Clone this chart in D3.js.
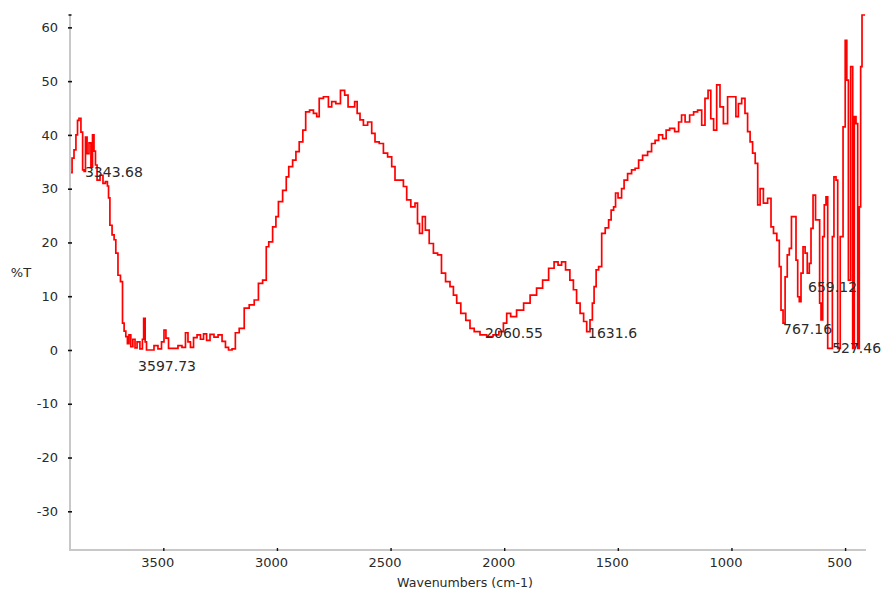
<!DOCTYPE html>
<html>
<head>
<meta charset="utf-8">
<script src="https://cdn.jsdelivr.net/npm/d3@7"></script>
<style>
  html, body { margin: 0; padding: 0; background: #fff; }
  svg { display: block; }
  text { font-family: "DejaVu Sans", Verdana, sans-serif; fill: #2a2a2a; }
</style>
</head>
<body>
<svg id="chart" width="882" height="590"></svg>
<script>
// ---- data ----
const wavenumbers = [3906,3897,3889,3880,3875,3867,3858,3852,3845,3840,3831,3823,3814,3809,3801,3796,3787,3770,3761,3749,3743,3739,3731,3720,3713,3705,3694,3683,3676,3669,3661,3655,3647,3639,3629,3620,3611,3595,3589,3584,3576,3572,3550,3532,3515,3501,3493,3484,3470,3444,3427,3409,3396,3387,3374,3360,3343,3330,3316,3303,3286,3268,3250,3233,3220,3206,3189,3177,3155,3133,3111,3089,3074,3052,3042,3030,3008,3001,2986,2964,2954,2942,2920,2913,2891,2881,2866,2847,2832,2818,2810,2781,2766,2752,2730,2711,2693,2681,2664,2652,2642,2627,2612,2590,2576,2561,2539,2524,2502,2488,2473,2451,2436,2422,2400,2385,2378,2367,2353,2341,2319,2304,2282,2270,2246,2231,2216,2202,2180,2158,2143,2121,2092,2062,2036,2011,1996,1982,1961,1930,1899,1873,1842,1820,1789,1772,1754,1741,1719,1703,1688,1675,1657,1644,1630,1615,1609,1600,1591,1578,1564,1547,1534,1525,1512,1508,1490,1477,1468,1446,1433,1415,1402,1380,1358,1345,1327,1314,1292,1283,1261,1239,1226,1213,1195,1173,1160,1138,1124,1109,1097,1085,1072,1058,1043,1028,1006,984,977,962,948,933,925,911,903,888,881,867,852,830,822,808,793,786,778,768,760,749,742,730,720,712,705,698,690,680,672,661,654,646,636,624,614,610,602,595,588,580,573,558,554,544,536,529,514,504,495,490,481,470,463,456,448,441,434,429,422,412];
const transmittance = [33.0,35.7,37.2,40.0,42.7,43.1,40.5,33.5,33.2,39.6,36.5,38.5,34.0,40.0,37.0,34.4,31.6,32.5,31.0,31.3,30.5,28.3,23.2,21.4,20.5,18.0,13.9,12.7,5.0,3.5,2.5,1.2,2.8,0.6,2.0,0.4,1.5,0.2,2.0,5.9,1.5,0.0,0.0,0.8,0.2,1.5,3.7,2.2,0.3,0.3,0.8,0.5,3.2,1.5,0.5,2.3,2.8,2.0,3.0,1.8,2.9,2.4,2.8,1.6,0.5,0.0,0.2,3.2,4.0,7.8,8.4,9.3,12.4,13.0,19.2,20.1,22.9,24.8,27.6,29.7,32.2,34.1,35.3,36.9,38.7,40.9,44.3,44.6,44.0,43.4,46.8,47.1,45.2,46.2,45.8,48.3,47.4,45.2,45.2,46.2,44.0,42.8,41.8,42.4,40.3,38.7,38.4,36.6,35.9,34.1,31.6,31.6,30.4,27.9,26.6,27.3,23.5,21.7,24.8,22.3,19.8,18.0,17.7,14.3,12.7,11.8,10.2,8.7,6.8,5.5,4.0,3.4,2.8,2.5,2.8,3.4,5.0,6.8,6.2,7.4,8.7,10.2,11.5,13.0,15.2,16.4,15.8,16.4,14.9,13.0,11.2,8.7,6.8,5.3,3.4,5.6,8.7,11.8,14.9,15.5,21.7,22.7,24.2,26.0,26.6,29.2,28.3,30.0,31.6,32.8,33.5,33.8,35.3,36.2,36.9,38.4,39.0,40.0,39.3,40.9,41.2,40.6,42.4,43.7,42.4,43.7,44.3,44.6,41.8,46.8,48.3,43.0,40.9,49.3,45.2,42.1,47.1,47.1,43.4,45.8,46.8,44.0,40.6,38.7,36.6,34.7,27.0,30.0,27.3,28.2,22.9,21.7,20.4,15.5,7.4,5.0,13.6,17.7,18.9,24.8,24.8,16.7,9.9,9.0,14.3,19.2,18.0,14.3,16.1,22.6,28.8,24.2,24.2,8.7,5.6,21.1,27.0,28.5,0.3,0.3,21.1,32.2,31.6,0.3,21.1,41.5,57.6,50.2,13.0,52.7,0.3,43.4,42.1,0.3,26.6,52.7,62.3,62.3];
const xTickValues = [3500,3000,2500,2000,1500,1000,500];
const yTickValues = [-30,-20,-10,0,10,20,30,40,50,60];
const peakLabels = ["3343.68","3597.73","2060.55","1631.6","659.12","767.16","527.46"];
const peakLabelWavenumber = [3845,3611,2084,1631,663,773,557];
const peakLabelValue = [32.2,-3.9,2.2,2.2,10.7,2.9,-0.5];
const xDomain = [3910.6, 408];
const yDomain = [-37.2, 62.3];
const xTitle = "Wavenumbers (cm-1)";
const yTitle = "%T";

// ---- drawing ----
const svg = d3.select("#chart");
const plotLeft = 70, plotRight = 866, plotTop = 15, plotBottom = 550;
const x = d3.scaleLinear().domain(xDomain).range([plotLeft, plotRight]);
const y = d3.scaleLinear().domain(yDomain).range([plotBottom, plotTop]);

svg.append("line").attr("x1", plotLeft).attr("x2", plotLeft).attr("y1", plotTop).attr("y2", plotBottom + 1)
  .attr("stroke", "#c8c8c8").attr("stroke-width", 2);
svg.append("line").attr("x1", plotLeft - 1).attr("x2", plotRight).attr("y1", plotBottom).attr("y2", plotBottom)
  .attr("stroke", "#c8c8c8").attr("stroke-width", 2);
svg.append("line").attr("x1", plotLeft - 1.5).attr("x2", plotLeft + 1.5).attr("y1", plotTop).attr("y2", plotTop)
  .attr("stroke", "#111").attr("stroke-width", 1.5);

const fmt = d => String(d);
const yAxis = d3.axisLeft(y).tickValues(yTickValues).tickSize(0).tickPadding(12).tickFormat(fmt);
const gy = svg.append("g").attr("transform", `translate(${plotLeft},0)`).call(yAxis);
gy.select(".domain").remove();
gy.selectAll(".tick text").attr("font-size", 13).attr("font-family", "DejaVu Sans, sans-serif").attr("fill", "#2a2a2a");
gy.selectAll(".tick").append("line").attr("x1", -2).attr("x2", 2).attr("stroke", "#111").attr("stroke-width", 1.6);

const xAxis = d3.axisBottom(x).tickValues(xTickValues).tickSize(0).tickPadding(8).tickFormat(fmt);
const gx = svg.append("g").attr("transform", `translate(0,${plotBottom})`).call(xAxis);
gx.select(".domain").remove();
gx.selectAll(".tick text").attr("font-size", 13).attr("font-family", "DejaVu Sans, sans-serif").attr("fill", "#2a2a2a").attr("dx", -6);
gx.selectAll(".tick").append("line").attr("y1", -2).attr("y2", 1).attr("stroke", "#111").attr("stroke-width", 1.4);

svg.append("text").attr("x", 21).attr("y", 277).attr("text-anchor", "middle").attr("font-size", 13).text(yTitle);
svg.append("text").attr("x", 465).attr("y", 587).attr("text-anchor", "middle").attr("font-size", 12.6).text(xTitle);

const data = wavenumbers.map((w, i) => ({ w, t: transmittance[i] }));
svg.append("defs").append("clipPath").attr("id", "plotclip")
  .append("rect").attr("x", plotLeft).attr("y", plotTop - 3).attr("width", plotRight - plotLeft).attr("height", plotBottom - plotTop + 3);
const line = d3.line().x(d => x(d.w)).y(d => y(d.t)).curve(d3.curveStep);
svg.append("path").datum(data).attr("d", line)
  .attr("fill", "none").attr("stroke", "#ff0000").attr("stroke-width", 1.7)
  .attr("clip-path", "url(#plotclip)");

svg.append("g").selectAll("text").data(peakLabels).join("text")
  .attr("x", (d, i) => x(peakLabelWavenumber[i]))
  .attr("y", (d, i) => y(peakLabelValue[i]))
  .attr("font-size", 14).attr("fill", "#222")
  .text(d => d);
</script>
</body>
</html>
